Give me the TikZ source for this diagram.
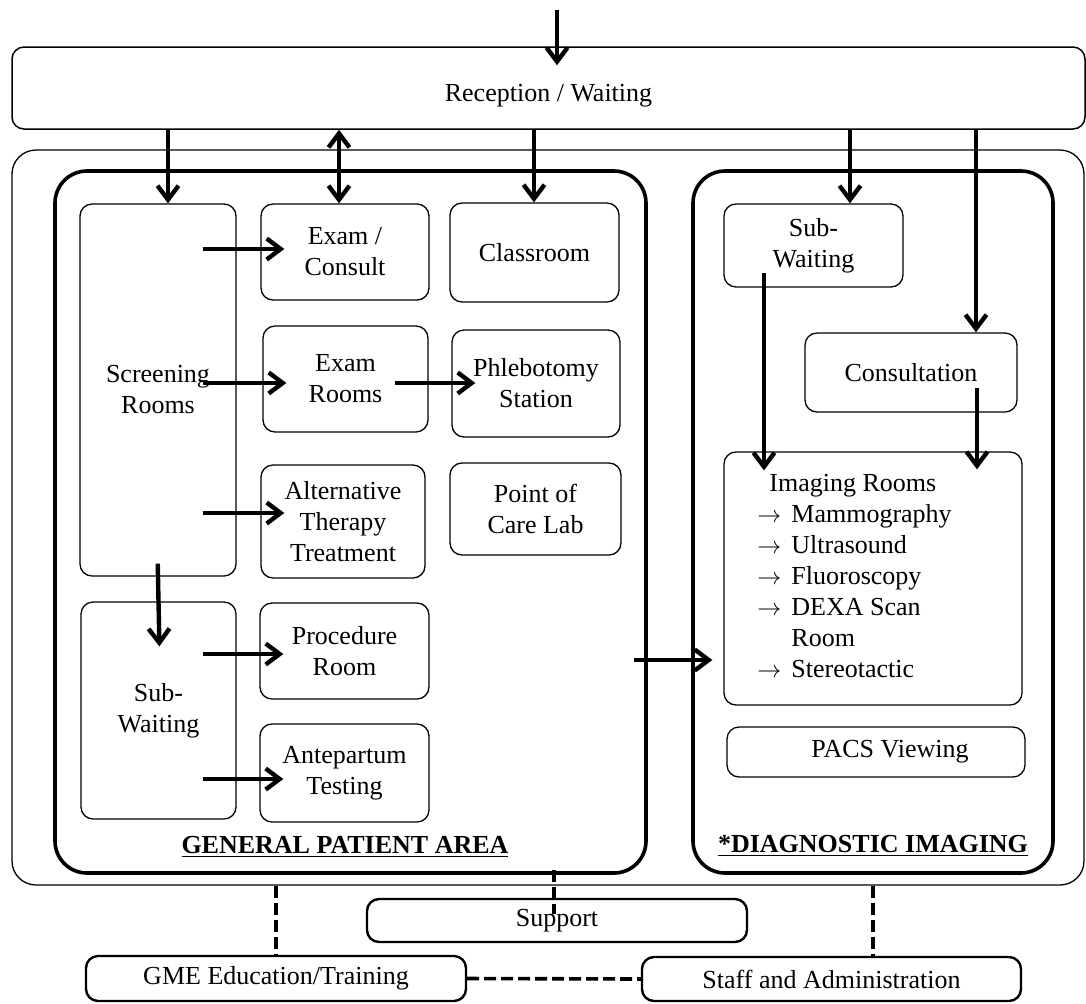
\documentclass[tikz,border=0pt]{standalone}
\usepackage{fontspec}
\setmainfont{Liberation Serif}
\usetikzlibrary{arrows.meta}

\tikzset{
  room/.style={draw, rounded corners=6pt, line width=0.65pt, inner sep=0pt, align=center},
  area/.style={draw, rounded corners=16pt, line width=1.8pt, inner sep=0pt},
  block/.style={draw, rounded corners=6pt, line width=1.2pt, inner sep=0pt},
  flow/.style={line width=2.2pt, ->},
  hflow/.style={flow, shorten <=-17pt, shorten >=-12pt},
  link/.style={line width=1.8pt, dash pattern=on 6pt off 2.5pt},
}

\begin{document}
\begin{tikzpicture}[x=0.5pt, y=-0.5pt, font=\fontsize{13pt}{15.5pt}\selectfont,
  >={Straight Barb[length=7pt,width=10.5pt]}]
\useasboundingbox (0,0) rectangle (1086,1003);

% reception and the building outline
\node[room, line width=0.75pt, minimum width=536.5pt, minimum height=41pt, text height=16pt] (rec) at (548.5,88) {Reception / Waiting};
\node[room, rounded corners=12pt, minimum width=536pt, minimum height=367.5pt] (site) at (548,517.5) {};

% the two areas
\node[area, minimum width=295.5pt, minimum height=351pt] (gpa) at (350.5,522) {};
\node[area, minimum width=180pt, minimum height=351pt] (dia) at (873,522) {};

% general patient area
\node[room, minimum width=78pt, minimum height=186pt] (scr) at (158,390) {Screening\\Rooms};
\node[room, minimum width=84pt, minimum height=48pt] (exc) at (345,252) {Exam /\\Consult};
\node[room, minimum width=84.5pt, minimum height=49.5pt] (cls) at (534.5,252.5) {Classroom};
\node[room, minimum width=82.5pt, minimum height=53pt] (exr) at (345.5,379) {Exam\\Rooms};
\node[room, minimum width=84pt, minimum height=53.5pt] (phl) at (536,383.5) {Phlebotomy\\Station};
\node[room, minimum width=82pt, minimum height=56.5pt] (alt) at (343,521.5) {Alternative\\Therapy\\Treatment};
\node[room, minimum width=85.5pt, minimum height=46pt] (poc) at (535.5,509) {Point of\\Care Lab};
\node[room, minimum width=77.5pt, minimum height=108.5pt] (swl) at (158.5,710.5) {Sub-\\Waiting};
\node[room, minimum width=84.5pt, minimum height=48pt] (prc) at (344.5,651) {Procedure\\Room};
\node[room, minimum width=84.5pt, minimum height=49pt] (ant) at (344.5,773) {Antepartum\\Testing};
\node (gpalbl) at (345,847) {\textbf{\underline{GENERAL PATIENT AREA}}};

% diagnostic imaging
\node[room, minimum width=89.5pt, minimum height=41.5pt] (swr) at (813.5,245.5) {Sub-\\Waiting};
\node[room, minimum width=106pt, minimum height=39.5pt] (con) at (911,372.5) {Consultation};
\node[room, minimum width=149pt, minimum height=126.5pt] (img) at (873,578.5) {};
\node[anchor=west, inner sep=0pt, align=left] (imgtxt) at (757,576)
  {\hspace*{6pt}Imaging Rooms\\
   $\rightarrow$\hspace{5pt}Mammography\\
   $\rightarrow$\hspace{5pt}Ultrasound\\
   $\rightarrow$\hspace{5pt}Fluoroscopy\\
   $\rightarrow$\hspace{5pt}DEXA Scan\\
   \phantom{$\rightarrow$}\hspace{5pt}Room\\
   $\rightarrow$\hspace{5pt}Stereotactic};
\node[room, minimum width=149pt, minimum height=25pt] (pacs) at (876,752) {\hspace*{14pt}PACS Viewing};
\node (dilbl) at (873,846) {\textbf{\underline{*DIAGNOSTIC IMAGING}}};

% outside the building
\node[block, minimum width=190pt, minimum height=21.5pt] (sup) at (557,920.5) {Support};
\node[block, minimum width=190pt, minimum height=22.5pt] (gme) at (276,978.5) {GME Education/Training};
\node[block, minimum width=189.5pt, minimum height=22pt] (stf) at (831.5,979) {Staff and Administration};

% patient flow
\coordinate (entry) at (557,10);
\draw[flow, shorten >=-9.5pt] (entry) -- (entry |- rec.north);
\draw[flow] (rec.south -| 168,0) -- (scr.north -| 168,0);
\draw[flow, <->] (rec.south -| 339,0) -- (exc.north -| 339,0);
\draw[flow] (rec.south -| 534,0) -- (cls.north -| 534,0);
\draw[flow] (rec.south -| 850,0) -- (swr.north -| 850,0);
\draw[flow] (rec.south -| 976,0) -- (con.north -| 976,0);

\draw[hflow] (scr.east |- 0,249) -- (exc.west |- 0,249);
\draw[hflow] (scr.east |- 0,383) -- (exr.west |- 0,383);
\draw[hflow] (exr.east |- 0,383) -- (phl.west |- 0,383);
\draw[hflow] (scr.east |- 0,513) -- (alt.west |- 0,513);
\draw[hflow] (swl.east |- 0,654) -- (prc.west |- 0,654);
\draw[hflow] (swl.east |- 0,779) -- (ant.west |- 0,779);
\draw[flow, shorten <=-6.5pt, shorten >=-22.5pt] (scr.south) -- (swl.north);

\draw[flow, shorten <=-7.5pt, shorten >=-9.5pt] (swr.south -| 764,0) -- (img.north -| 764,0);
\draw[flow, shorten <=-12.5pt, shorten >=-9pt] (con.south -| 977,0) -- (img.north -| 977,0);
\draw[flow, shorten <=-7pt, shorten >=5.5pt] (gpa.east |- 0,660) -- (img.west |- 0,660);

% support links
\draw[link] (site.south -| gme.north) -- (gme.north);
\draw[link] (site.south -| 873,0) -- (stf.north -| 873,0);
\draw[link, shorten <=-2.5pt, shorten >=-8pt] (gpa.south -| 554,0) -- (sup.north -| 554,0);
\draw[link] (gme.east) -- (stf.west);
\end{tikzpicture}
\end{document}
